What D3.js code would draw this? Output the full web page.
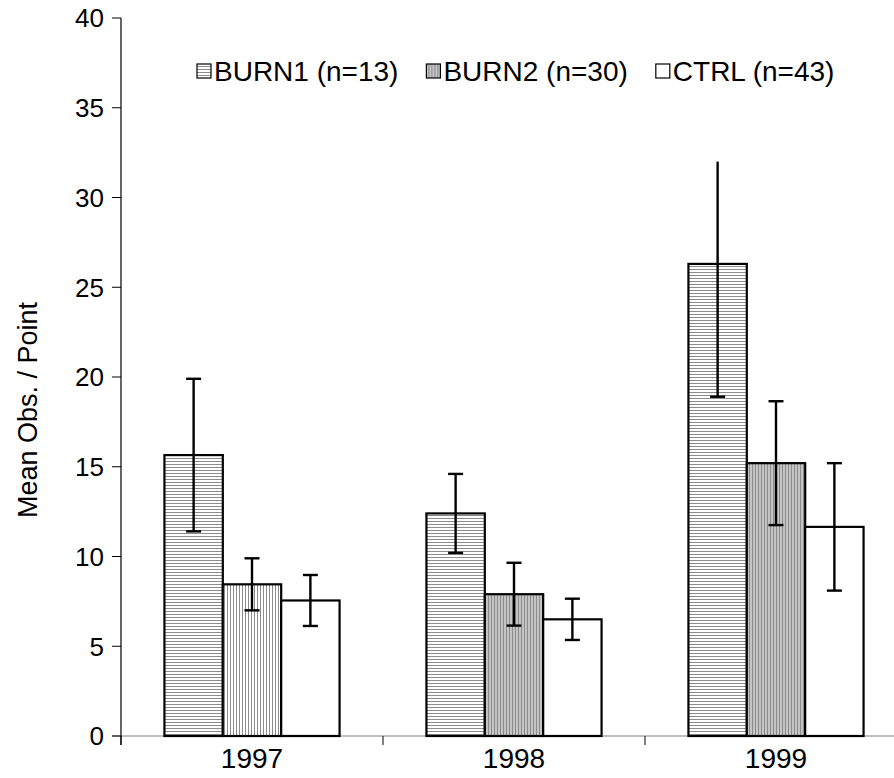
<!DOCTYPE html>
<html><head><meta charset="utf-8">
<script src="https://cdn.jsdelivr.net/npm/d3@7"></script>
<style>body{margin:0;background:#fff}svg{display:block}text{font-family:Arial,"Liberation Sans",sans-serif}</style>
</head><body><svg id="c" width="894" height="778"></svg>
<script>
const years = ["1997","1998","1999"];
const seriesNames = ["BURN1 (n=13)","BURN2 (n=30)","CTRL (n=43)"];
const burn1 = [15.65, 12.4, 26.3];
const burn2 = [8.45, 7.9, 15.2];
const ctrl  = [7.55, 6.5, 11.65];
const burn1Err = [4.25, 2.2, 7.4];
const burn2Err = [1.45, 1.75, 3.45];
const ctrlErr  = [1.42, 1.15, 3.55];
const yTicks = [0,5,10,15,20,25,30,35,40];
const errTopLimit = 32; // upper whisker of 1999 BURN1 is cut here, no cap

const FS = 28, FT = 26;
const svg = d3.select("#c");
const defs = svg.append("defs");
function hpat(id, bg, fg){
  const p = defs.append("pattern").attr("id",id).attr("patternUnits","userSpaceOnUse").attr("width",3).attr("height",3);
  p.append("rect").attr("width",3).attr("height",3).attr("fill",bg);
  p.append("rect").attr("y",2).attr("width",3).attr("height",1).attr("fill",fg);
}
function vpat(id, bg, fg){
  const p = defs.append("pattern").attr("id",id).attr("patternUnits","userSpaceOnUse").attr("width",3).attr("height",3);
  p.append("rect").attr("width",3).attr("height",3).attr("fill",bg);
  p.append("rect").attr("x",2).attr("width",1).attr("height",3).attr("fill",fg);
}
hpat("pB1","#fff","#8c8c8c");
vpat("pB2w","#fff","#8c8c8c");
vpat("pB2g","#c4c4c4","#8c8c8c");

const y = d3.scaleLinear().domain([0,40]).range([736,18]);
const x = d3.scaleBand().domain(years).range([121,907]).paddingInner(0).paddingOuter(0);
const xs = d3.scaleBand().domain([0,1,2]).range([0,x.bandwidth()]).paddingInner(0).paddingOuter(0.744);

const data = [];
years.forEach((yr,i)=>{
  [[burn1,burn1Err],[burn2,burn2Err],[ctrl,ctrlErr]].forEach(([v,e],s)=>{
    data.push({yr,i,s,v:v[i],e:e[i]});
  });
});
function fillFor(d){
  if(d.s===0) return "url(#pB1)";
  if(d.s===1) return d.i===0 ? "url(#pB2w)" : "url(#pB2g)";
  return "#fff";
}

// x axis
const xAxis = svg.append("g").attr("transform","translate(0,736)");
xAxis.append("line").attr("x1",112).attr("x2",894).attr("y1",0).attr("y2",0).attr("stroke","#808080").attr("stroke-width",1.2);
xAxis.selectAll("line.t").data(years.concat(["end"])).join("line").attr("class","t")
  .attr("x1",(d,i)=>x.range()[0]+i*x.bandwidth()).attr("x2",(d,i)=>x.range()[0]+i*x.bandwidth())
  .attr("y1",0).attr("y2",9).attr("stroke","#000").attr("stroke-width",1);
xAxis.selectAll("text").data(years).join("text")
  .attr("x",d=>x(d)+x.bandwidth()/2).attr("y",32).attr("text-anchor","middle")
  .attr("font-size",FS).text(d=>d);

// y axis
const yAxis = svg.append("g").attr("transform","translate(121,0)");
yAxis.append("line").attr("x1",0).attr("x2",0).attr("y1",y(40)).attr("y2",745).attr("stroke","#000").attr("stroke-width",1.2);
yAxis.selectAll("line.t").data(yTicks).join("line").attr("class","t")
  .attr("x1",-9).attr("x2",0).attr("y1",d=>y(d)).attr("y2",d=>y(d)).attr("stroke","#000").attr("stroke-width",1);
yAxis.selectAll("text").data(yTicks).join("text")
  .attr("x",-17).attr("y",d=>y(d)).attr("dy","0.36em").attr("text-anchor","end")
  .attr("font-size",FT).text(d=>d);

svg.append("text").attr("transform","translate(37,410) rotate(-90)").attr("text-anchor","middle")
  .attr("font-size",27).text("Mean Obs. / Point");

// bars
svg.append("g").selectAll("rect").data(data).join("rect")
  .attr("x",d=>x(d.yr)+xs(d.s)).attr("width",xs.bandwidth())
  .attr("y",d=>y(d.v)).attr("height",d=>y(0)-y(d.v))
  .attr("fill",fillFor).attr("stroke","#000").attr("stroke-width",2.2);

// error bars
const eg = svg.append("g").attr("stroke","#000").attr("stroke-width",2.4);
data.forEach(d=>{
  const cx = x(d.yr)+xs(d.s)+xs.bandwidth()/2;
  const hiRaw = d.v+d.e, hi = Math.min(hiRaw, errTopLimit), lo = d.v-d.e;
  eg.append("line").attr("x1",cx).attr("x2",cx).attr("y1",y(hi)).attr("y2",y(lo));
  eg.append("line").attr("x1",cx-7.5).attr("x2",cx+7.5).attr("y1",y(lo)).attr("y2",y(lo));
  if(hiRaw<=errTopLimit) eg.append("line").attr("x1",cx-7.5).attr("x2",cx+7.5).attr("y1",y(hi)).attr("y2",y(hi));
});

// legend
const leg = svg.append("g");
let lx = 197;
const gap = 28;
seriesNames.forEach((n,s)=>{
  const g = leg.append("g").attr("transform",`translate(${lx},64)`);
  g.append("rect").attr("width",14).attr("height",14)
    .attr("fill", s===0?"url(#pB1)":s===1?"url(#pB2g)":"#fff").attr("stroke","#000").attr("stroke-width",1.2);
  const t = g.append("text").attr("x",17).attr("y",7).attr("dy","0.36em").attr("font-size",FS).text(n);
  lx += 17 + t.node().getComputedTextLength() + gap;
});
</script></body></html>
